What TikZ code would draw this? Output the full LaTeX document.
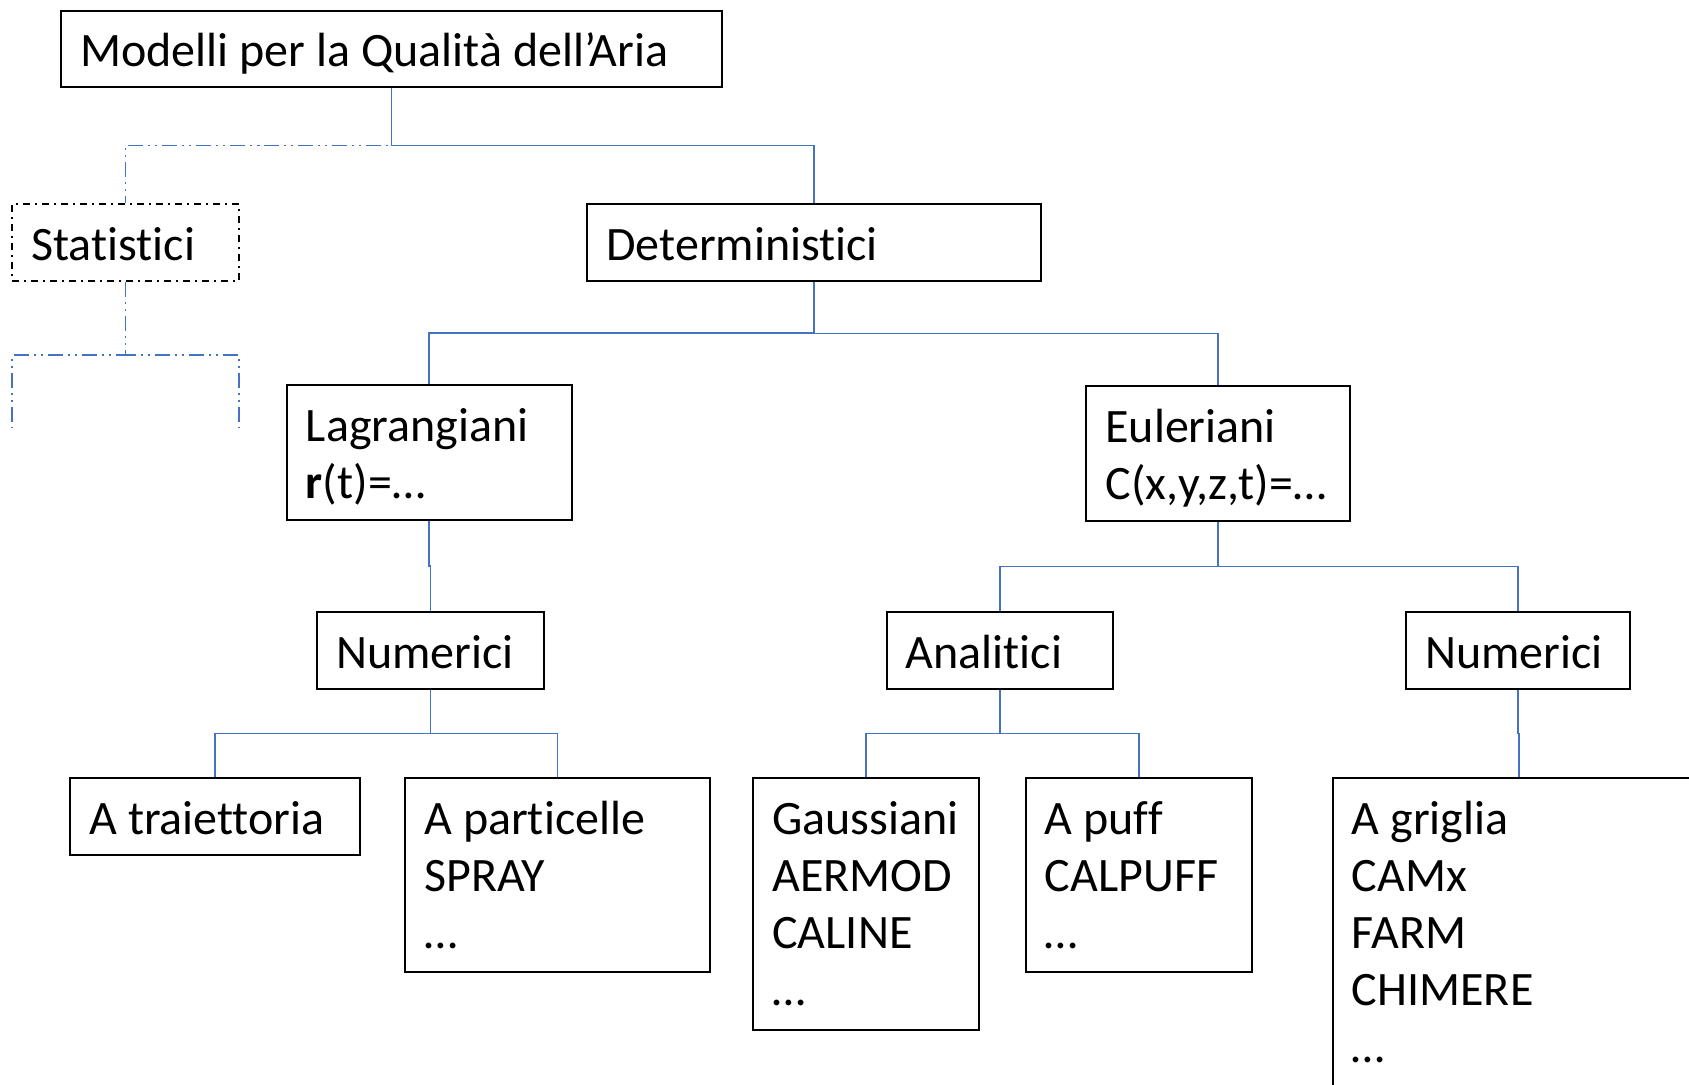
\documentclass[tikz,border=0pt]{standalone}
\usepackage{fontspec}
\setmainfont{Carlito}[Ligatures=NoCommon]
\usetikzlibrary{calc,fit}
\definecolor{linkblue}{RGB}{68,114,196}

\begin{document}
\begin{tikzpicture}[
  x=0.5pt, y=-0.5pt,
  box/.style={draw=black, line width=1pt, inner sep=0pt},
  dashbox/.style={box, dash pattern=on 3.5pt off 2.5pt on 1pt off 2.5pt},
  txt/.style={anchor=base west, inner sep=0pt, font=\fontsize{24}{28.55}\selectfont},
  link/.style={draw=linkblue, line width=0.9pt},
  dashlink/.style={link, dash pattern=on 7.5pt off 2.5pt on 1pt off 2.5pt on 1pt off 2.5pt},
  tree/.style={to path={|- ($(\tikztostart)!.5!(\tikztotarget)$) -| (\tikztotarget)}}
]
\useasboundingbox (0,0) rectangle (1689,1084);
\clip (0,0) rectangle (1689,1084);

% boxes
\node[box, fit={(61,11) (722,87)}] (top) {};
\node[dashbox, fit={(12,204) (239,281)}] (stat) {};
\node[box, fit={(587,204) (1041,281)}] (det) {};
\node[box, fit={(286.5,385) (572,520)}] (lag) {};
\node[box, fit={(1086,386) (1350,521)}] (eul) {};
\node[box, fit={(317,612) (544,689)}] (numL) {};
\node[box, fit={(886.5,612) (1112.7,689)}] (ana) {};
\node[box, fit={(1405.7,612) (1629.8,689)}] (numE) {};
\node[box, fit={(70,778) (360,855)}] (tra) {};
\node[box, fit={(405,778) (710,972)}] (part) {};
\node[box, fit={(753,778) (979,1030)}] (gau) {};
\node[box, fit={(1025.5,778) (1251.7,972)}] (puff) {};
\node[box, fit={(1332.5,778) (1705,1120)}] (grig) {};

% labels
\node[txt] (top-t) at ($(top.north west)+(20,56)$) {Modelli per la Qualità dell’Aria};
\node[txt] (stat-t) at ($(stat.north west)+(20,57)$) {Statistici};
\node[txt] (det-t) at ($(det.north west)+(20,57)$) {Deterministici};
\node[txt] (lag-t) at ($(lag.north west)+(20,57)$) {\begin{tabular}[t]{@{}l@{}}Lagrangiani\\\textbf{r}(t)=…\end{tabular}};
\node[txt] (eul-t) at ($(eul.north west)+(20,57)$) {\begin{tabular}[t]{@{}l@{}}Euleriani\\C(x,y,z,t)=…\end{tabular}};
\node[txt] (numL-t) at ($(numL.north west)+(20,57)$) {Numerici};
\node[txt] (ana-t) at ($(ana.north west)+(20,57)$) {Analitici};
\node[txt] (numE-t) at ($(numE.north west)+(20,57)$) {Numerici};
\node[txt] (tra-t) at ($(tra.north west)+(20,57)$) {A traiettoria};
\node[txt] (part-t) at ($(part.north west)+(20,57)$) {\begin{tabular}[t]{@{}l@{}}A particelle\\SPRAY\\…\end{tabular}};
\node[txt] (gau-t) at ($(gau.north west)+(20,57)$) {\begin{tabular}[t]{@{}l@{}}Gaussiani\\AERMOD\\CALINE\\…\end{tabular}};
\node[txt] (puff-t) at ($(puff.north west)+(20,57)$) {\begin{tabular}[t]{@{}l@{}}A puff\\CALPUFF\\…\end{tabular}};
\node[txt] (grig-t) at ($(grig.north west)+(20,57)$) {\begin{tabular}[t]{@{}l@{}}A griglia\\CAMx\\FARM\\CHIMERE\\…\end{tabular}};

% free ends of the open Statistici branch
\coordinate (statL) at (12,428);
\coordinate (statR) at (239,428);

% connectors
\draw[link] (top.south) to[tree] (det.north);
\draw[dashlink] (top.south) to[tree] (stat.north);
\draw[dashlink] (stat.south) to[tree] (statL);
\draw[dashlink] (stat.south) to[tree] (statR);
\draw[link] (det.south) to[tree] (lag.north);
\draw[link] (det.south) to[tree] (eul.north);
\draw[link] (lag.south) to[tree] (numL.north);
\draw[link] (numL.south) to[tree] (tra.north);
\draw[link] (numL.south) to[tree] (part.north);
\draw[link] (eul.south) to[tree] (ana.north);
\draw[link] (eul.south) to[tree] (numE.north);
\draw[link] (ana.south) to[tree] (gau.north);
\draw[link] (ana.south) to[tree] (puff.north);
\draw[link] (numE.south) to[tree] (grig.north);
\end{tikzpicture}
\end{document}
